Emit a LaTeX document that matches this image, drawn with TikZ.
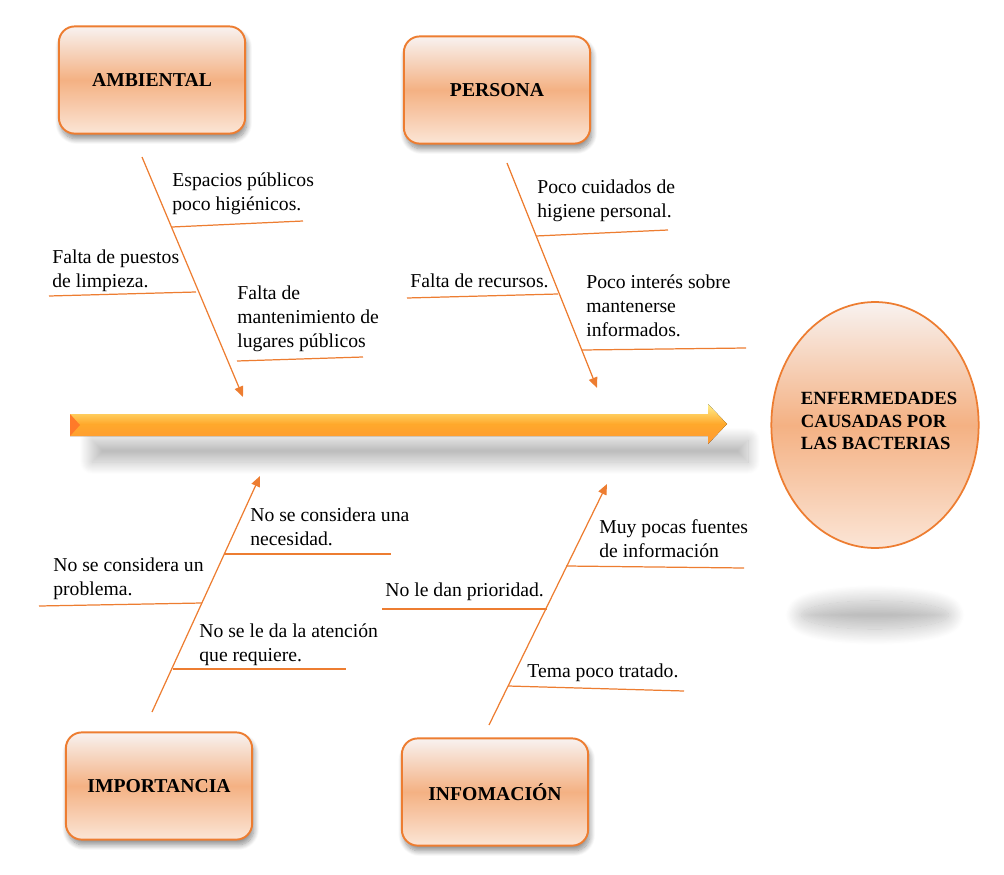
\documentclass[tikz,border=0pt]{standalone}
\usepackage{fontspec}
\setmainfont{Liberation Serif}
\usetikzlibrary{positioning,arrows.meta,shadows.blur,shapes.geometric}

\definecolor{naranja}{HTML}{ED7D31}
\definecolor{melon}{HTML}{F4B183}
\definecolor{crema}{HTML}{FBE5D6}
\definecolor{blanco}{HTML}{F8F2F0}
\definecolor{flechaA}{HTML}{FFF08C}
\definecolor{flechaB}{HTML}{FF9933}

\begin{document}
\begin{tikzpicture}[x=0.02cm, y=-0.02cm, >={Triangle[length=6pt,width=5pt]},
    causa/.style={draw=naranja, line width=1.1pt, rounded corners=9pt,
      top color=blanco, bottom color=crema, middle color=melon,
      minimum width=106pt, minimum height=61pt,
      font=\fontsize{11.2}{14}\selectfont\bfseries,
      blur shadow={shadow xshift=1pt, shadow yshift=-3pt, shadow blur radius=3pt,
        shadow blur steps=10, shadow opacity=45}},
    efecto/.style={ellipse, draw=naranja, line width=1pt,
      top color=blanco, bottom color=crema, middle color=melon,
      minimum width=118pt, minimum height=140pt, inner sep=0pt},
    sombra/.style={blur shadow={shadow xshift=0pt, shadow yshift=0pt,
        shadow blur radius=#1, shadow blur steps=25, shadow opacity=28}},
    espina/.style={draw=naranja, line width=0.7pt, ->},
    raya/.style={draw=naranja, line width=0.7pt},
    nota/.style={anchor=north west, inner sep=0pt, align=left,
      font=\fontsize{11.2}{13.9}\selectfont}]

\useasboundingbox (0,0) rectangle (1004,875);

\path[sombra=7pt] (92,440) rectangle (748,462);
\path[sombra=9pt] (875,615) ellipse (42pt and 8pt);

\fill[top color=flechaA, bottom color=flechaB, middle color=flechaB!85!yellow]
  (70,414) -- (708,414) -- (708,404) -- (727,424) -- (708,444) -- (708,436) -- (70,436) -- cycle;
\fill[flechaB!80!red] (70,414) -- (80,425) -- (70,436) -- cycle;

\node[causa] (amb) at (152,80) {AMBIENTAL};
\node[causa] (per) at (497,90) {PERSONA};
\node[causa] (imp) at (159,786) {IMPORTANCIA};
\node[causa] (inf) at (495,792) {INFOMACIÓN};
\node[efecto] (efe) at (875,425) {};
\node[align=left, font=\fontsize{10.6}{13}\selectfont\bfseries] (efetxt) at (879,421)
  {ENFERMEDADES\\CAUSADAS POR\\LAS BACTERIAS};

\coordinate (amb1) at (142,157);
\coordinate (amb2) at (243,397);
\coordinate (per1) at (507,163);
\coordinate (per2) at (597,388);
\coordinate (imp1) at (152,712);
\coordinate (imp2) at (260,476);
\coordinate (inf1) at (489,725);
\coordinate (inf2) at (607,484);

\draw[espina] (amb1) -- (amb2);
\draw[espina] (per1) -- (per2);
\draw[espina] (imp1) -- (imp2);
\draw[espina] (inf1) -- (inf2);

\node[nota] (a1) at (172,172) {Espacios públicos\\poco higiénicos.};
\node[nota] (a2) at (52,249) {Falta de puestos\\de limpieza.};
\node[nota] (a3) at (237,285) {Falta de\\mantenimiento de\\lugares públicos};
\node[nota] (p1) at (537,179) {Poco cuidados de\\higiene personal.};
\node[nota] (p2) at (410,273) {Falta de recursos.};
\node[nota] (p3) at (586,274) {Poco interés sobre\\mantenerse\\informados.};
\node[nota] (i1) at (250,507) {No se considera una\\necesidad.};
\node[nota] (i2) at (53,557) {No se considera un\\problema.};
\node[nota] (i3) at (199,623) {No se le da la atención\\que requiere.};
\node[nota] (f1) at (599,519) {Muy pocas fuentes\\de información};
\node[nota] (f2) at (385,582) {No le dan prioridad.};
\node[nota] (f3) at (527,663) {Tema poco tratado.};

\draw[raya] (172,227) -- (303,221);
\draw[raya] (49,296) -- (196,292);
\draw[raya] (237,361) -- (363,357);
\draw[raya] (536,236) -- (668,230);
\draw[raya] (407,298) -- (558,294);
\draw[raya] (582,350) -- (746,348);
\draw[raya] (224,554) -- (391,554);
\draw[raya] (39,606) -- (202,603);
\draw[raya] (173,669) -- (346,669);
\draw[raya] (566,566) -- (744,568);
\draw[raya] (382,609) -- (547,609);
\draw[raya] (508,686) -- (684,691);
\end{tikzpicture}
\end{document}
